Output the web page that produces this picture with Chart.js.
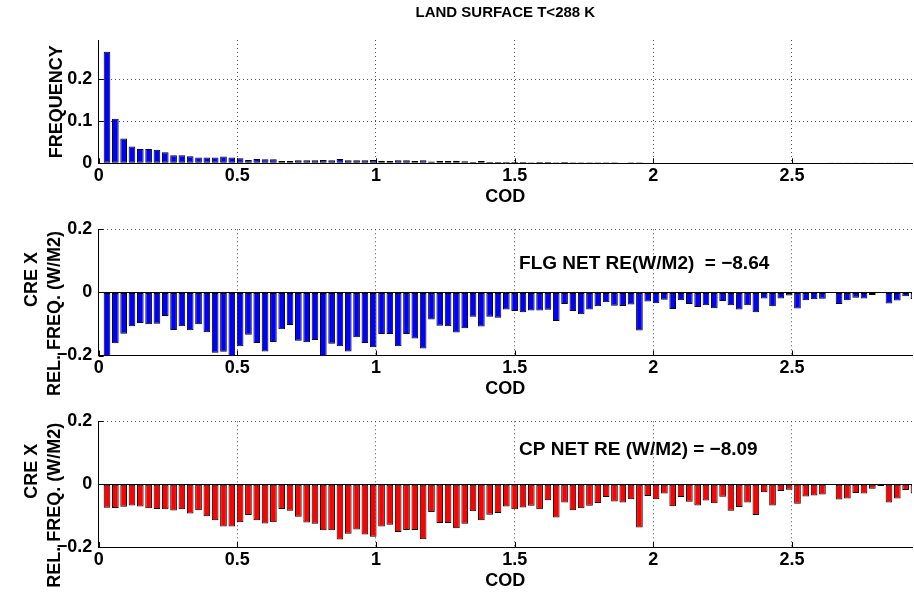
<!DOCTYPE html>
<html lang="en">
<head>
<meta charset="utf-8" />
<title>LAND SURFACE T&lt;288 K</title>
<script src="https://cdn.jsdelivr.net/npm/chart.js@4.4.1/dist/chart.umd.min.js"></script>
<style>
  html, body { margin: 0; padding: 0; background: #fff; }
  body { width: 914px; height: 596px; position: relative; overflow: hidden; }
  canvas { position: absolute; left: 0; }
</style>
</head>
<body>
<canvas id="freqChart" width="914" height="212" style="top:0"></canvas>
<canvas id="flgChart" width="914" height="192" style="top:212px"></canvas>
<canvas id="cpChart" width="914" height="192" style="top:404px"></canvas>

<script>
// bin centres (COD)
var cod = [0.03,0.06,0.09,0.12,0.15,0.18,0.21,0.24,0.27,0.30,
           0.33,0.36,0.39,0.42,0.45,0.48,0.51,0.54,0.57,0.60,
           0.63,0.66,0.69,0.72,0.75,0.78,0.81,0.84,0.87,0.90,
           0.93,0.96,0.99,1.02,1.05,1.08,1.11,1.14,1.17,1.20,
           1.23,1.26,1.29,1.32,1.35,1.38,1.41,1.44,1.47,1.50,
           1.53,1.56,1.59,1.62,1.65,1.68,1.71,1.74,1.77,1.80,
           1.83,1.86,1.89,1.92,1.95,1.98,2.01,2.04,2.07,2.10,
           2.13,2.16,2.19,2.22,2.25,2.28,2.31,2.34,2.37,2.40,
           2.43,2.46,2.49,2.52,2.55,2.58,2.61,2.64,2.67,2.70,
           2.73,2.76,2.79,2.82,2.85,2.88,2.91,2.94];

// top panel: frequency
var frequency = [0.265,0.106,0.059,0.040,0.034,0.034,0.032,0.026,0.019,0.019,
                 0.017,0.014,0.014,0.014,0.016,0.0135,0.012,0.008,0.010,0.0095,
                 0.0095,0.0055,0.0055,0.007,0.007,0.007,0.008,0.007,0.010,0.007,
                 0.007,0.007,0.008,0.0063,0.0056,0.0071,0.0071,0.0056,0.0071,0.004,
                 0.0056,0.0056,0.0063,0.0048,0.0032,0.0056,0.0032,0.0032,0.0032,0.0032,
                 0.0032,0.0024,0.0032,0.0032,0.0024,0.0032,0.0024,0.0024,0.0024,0.0024,
                 0.0024,0.0024,0.0016,0.0024,0.0024,0.0016,0.0016,0.0016,0.0016,0.0016,
                 0.0016,0.0016,0.0015,0.0015,0.0015,0.0014,0.0014,0.0014,0.0013,0.0013,
                 0.0013,0.0012,0.0012,0.0012,0.0011,0.0011,0.0011,0.001,0.001,0.001,
                 0.001,0.001,0.0009,0.0009,0.0009,0.0009,0.0008,0.0008];

// middle panel: FLG CRE x relative frequency
var flgCre = [-0.205,-0.161,-0.131,-0.107,-0.097,-0.101,-0.099,-0.075,-0.119,-0.107,
              -0.120,-0.101,-0.126,-0.191,-0.188,-0.205,-0.171,-0.134,-0.160,-0.187,
              -0.157,-0.117,-0.103,-0.153,-0.158,-0.151,-0.205,-0.163,-0.171,-0.187,
              -0.142,-0.160,-0.174,-0.132,-0.132,-0.171,-0.132,-0.146,-0.178,-0.086,
              -0.106,-0.107,-0.127,-0.114,-0.077,-0.108,-0.077,-0.080,-0.054,-0.059,
              -0.063,-0.057,-0.057,-0.055,-0.091,-0.037,-0.059,-0.069,-0.054,-0.044,
              -0.031,-0.042,-0.043,-0.038,-0.121,-0.029,-0.034,-0.023,-0.053,-0.025,
              -0.037,-0.046,-0.041,-0.050,-0.027,-0.041,-0.054,-0.041,-0.063,-0.019,
              -0.044,-0.019,-0.010,-0.051,-0.025,-0.022,-0.020,-0.001,-0.037,-0.025,
              -0.017,-0.019,-0.008,-0.002,-0.035,-0.026,-0.012,-0.021];

// bottom panel: CP CRE x relative frequency
var cpCre = [-0.075,-0.076,-0.072,-0.068,-0.071,-0.077,-0.079,-0.080,-0.084,-0.080,
             -0.093,-0.083,-0.102,-0.115,-0.135,-0.135,-0.121,-0.098,-0.115,-0.125,
             -0.121,-0.079,-0.085,-0.104,-0.122,-0.126,-0.147,-0.147,-0.176,-0.158,
             -0.144,-0.160,-0.167,-0.135,-0.129,-0.152,-0.146,-0.146,-0.175,-0.089,
             -0.124,-0.124,-0.140,-0.126,-0.086,-0.115,-0.097,-0.092,-0.071,-0.080,
             -0.074,-0.069,-0.080,-0.051,-0.106,-0.058,-0.083,-0.077,-0.069,-0.060,
             -0.041,-0.055,-0.058,-0.048,-0.138,-0.038,-0.048,-0.030,-0.070,-0.041,
             -0.056,-0.068,-0.052,-0.061,-0.040,-0.085,-0.073,-0.058,-0.098,-0.026,
             -0.068,-0.022,-0.018,-0.062,-0.039,-0.036,-0.033,-0.001,-0.049,-0.046,
             -0.028,-0.030,-0.015,-0.006,-0.058,-0.046,-0.019,-0.030];

var codTicks = [0, 0.5, 1, 1.5, 2, 2.5];
var codTickLabels = ['0', '0.5', '1', '1.5', '2', '2.5'];
var freqTicks = [0, 0.1, 0.2];
var freqTickLabels = ['0', '0.1', '0.2'];
var creTicks = [-0.2, 0, 0.2];
var creTickLabels = ['\u22120.2', '0', '0.2'];

var FAMILY = '"Liberation Sans", Arial, Helvetica, sans-serif';

// zero line, inward ticks, two-line y label and the text note inside a panel
var decor = {
  id: 'decor',
  afterDatasetsDraw: function (chart, args, opts) {
    var ctx = chart.ctx, a = chart.chartArea, x = chart.scales.x, y = chart.scales.y;
    ctx.save();
    ctx.strokeStyle = '#000';
    ctx.lineWidth = 1;
    function seg(x1, y1, x2, y2) {
      ctx.beginPath(); ctx.moveTo(x1, y1); ctx.lineTo(x2, y2); ctx.stroke();
    }
    if (opts.zeroLine) {
      var zy = Math.round(y.getPixelForValue(0)) + 0.5;
      seg(a.left, zy, a.right, zy);
    }
    x.ticks.forEach(function (t) {
      var px = Math.round(x.getPixelForValue(t.value)) + 0.5;
      seg(px, a.bottom, px, a.bottom - 5);
    });
    y.ticks.forEach(function (t) {
      var py = Math.round(y.getPixelForValue(t.value)) + 0.5;
      seg(a.left, py, a.left + 5, py);
    });
    ctx.fillStyle = '#000';
    if (opts.note) {
      ctx.font = 'bold 19px ' + FAMILY;
      ctx.textBaseline = 'middle';
      ctx.textAlign = 'left';
      ctx.fillText(opts.note.text, x.getPixelForValue(opts.note.x), y.getPixelForValue(opts.note.y));
    }
    (opts.yLabels || []).forEach(function (l) {
      ctx.save();
      ctx.font = 'bold 18px ' + FAMILY;
      ctx.textBaseline = 'middle';
      ctx.textAlign = 'center';
      ctx.translate(l.cx, (a.top + a.bottom) / 2 + l.dy);
      ctx.rotate(-Math.PI / 2);
      ctx.fillText(l.text, 0, 0);
      ctx.restore();
    });
    ctx.restore();
  }
};

function panel(id, values, color, p) {
  var font = { family: FAMILY, size: 18, weight: 'bold' };
  return new Chart(document.getElementById(id), {
    type: 'bar',
    data: {
      datasets: [{
        data: cod.map(function (c, i) { return { x: c, y: values[i] }; }),
        backgroundColor: color,
        borderColor: '#000',
        borderWidth: 1,
        borderSkipped: false,
        barPercentage: 0.8,
        categoryPercentage: 1
      }]
    },
    options: {
      responsive: false,
      animation: false,
      layout: { padding: { left: 0, right: 2, top: p.padTop, bottom: 0 } },
      plugins: {
        legend: { display: false },
        tooltip: { enabled: false },
        title: p.title ? {
          display: true, text: p.title, fullSize: false, color: '#000',
          font: { family: FAMILY, size: 15, weight: 'bold' },
          padding: { top: 4, bottom: 18 }
        } : { display: false },
        decor: { zeroLine: p.zeroLine, note: p.note, yLabels: p.yLabels }
      },
      scales: {
        x: {
          type: 'linear', min: 0, max: 2.933, offset: false,
          afterBuildTicks: function (s) { s.ticks = codTicks.map(function (v) { return { value: v }; }); },
          afterFit: function (s) { s.height = p.xHeight; },
          grid: {
            offset: false, drawTicks: false, lineWidth: 1,
            color: function (c) { return c.tick && c.tick.value === 0 ? 'rgba(0,0,0,0)' : '#555'; }
          },
          border: { display: true, color: '#000', width: 1, dash: [1, 3] },
          ticks: {
            font: font, color: '#000', padding: 2, maxRotation: 0, autoSkip: false,
            callback: function (v, i) { return codTickLabels[i]; }
          },
          title: { display: true, text: 'COD', font: font, color: '#000', padding: { top: 0, bottom: 4 } }
        },
        y: {
          min: p.yMin, max: p.yMax,
          afterBuildTicks: function (s) { s.ticks = p.yTicks.map(function (v) { return { value: v }; }); },
          afterFit: function (s) { s.width = 98.7; },
          grid: {
            drawTicks: false, lineWidth: 1,
            color: function (c) {
              if (!c.tick) return '#555';
              return (c.tick.value === 0 || c.tick.value === p.yMin) ? 'rgba(0,0,0,0)' : '#555';
            }
          },
          border: { display: true, color: '#000', width: 1, dash: [1, 3] },
          ticks: {
            font: font, color: '#000', padding: 6.5, autoSkip: false,
            callback: function (v, i) { return p.yTickLabels[i]; }
          },
          title: {
            display: !!p.yTitle, text: p.yTitle || '', color: '#000',
            font: { family: FAMILY, size: 18, weight: 'bold' },
            padding: { top: p.yTitlePad || 0, bottom: 0 }
          }
        }
      }
    },
    plugins: [decor]
  });
}

var creLabels = [
  { text: 'CRE X', cx: 32, dy: -13 },
  { text: 'REL. FREQ. (W/M2)', cx: 55.5, dy: 21 }
];

panel('freqChart', frequency, '#0000ff', {
  title: 'LAND SURFACE T<288 K', padTop: 0, xHeight: 48.7,
  yMin: 0, yMax: 0.293, yTicks: freqTicks, yTickLabels: freqTickLabels,
  yTitle: 'FREQUENCY', yTitlePad: 46, zeroLine: false
});

panel('flgChart', flgCre, '#0000ff', {
  padTop: 17.3, xHeight: 48.5,
  yMin: -0.2, yMax: 0.2, yTicks: creTicks, yTickLabels: creTickLabels,
  yLabels: creLabels, zeroLine: true,
  note: { text: 'FLG NET RE(W/M2)  = \u22128.64', x: 1.516, y: 0.092 }
});

panel('cpChart', cpCre, '#ff0000', {
  padTop: 17, xHeight: 49,
  yMin: -0.2, yMax: 0.2, yTicks: creTicks, yTickLabels: creTickLabels,
  yLabels: creLabels, zeroLine: true,
  note: { text: 'CP NET RE (W/M2) = \u22128.09', x: 1.516, y: 0.110 }
});
</script>
</body>
</html>
